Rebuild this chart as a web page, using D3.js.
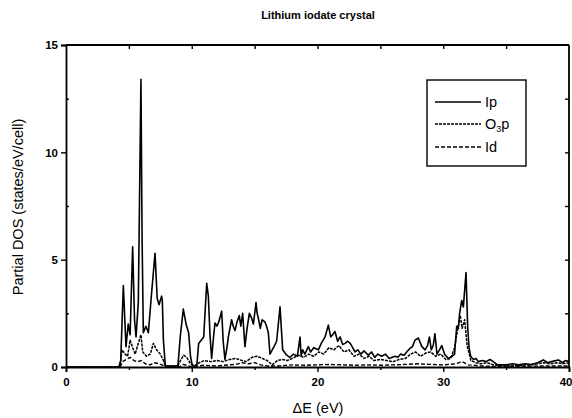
<!DOCTYPE html>
<html><head><meta charset="utf-8">
<script src="https://cdn.jsdelivr.net/npm/d3@7"></script>
<style>body{margin:0;background:#fff}svg{display:block}</style>
</head><body>
<svg id="c" width="572" height="418"></svg>
<script>
const titleText = "Lithium iodate crystal";
const xLabel = "\u0394E (eV)";
const yLabel = "Partial DOS (states/eV/cell)";
const xTicks = [0, 10, 20, 30, 40];
const yTicks = [0, 5, 10, 15];
const seriesNames = ["Ip", "O3p", "Id"];

const ipE = [0,4.2,4.35,4.56,4.77,4.95,5.1,5.3,5.45,5.57,5.75,5.96,6.05,6.15,6.35,6.55,6.8,7.08,7.25,7.4,7.6,7.66,7.75,7.9,8.9,9.1,9.33,9.55,9.75,9.9,10.05,10.4,10.55,10.75,10.95,11.19,11.32,11.45,11.58,11.75,11.85,12.0,12.15,12.38,12.5,12.64,12.8,12.91,13.17,13.3,13.44,13.6,13.78,13.9,14.05,14.23,14.4,14.58,14.75,14.9,15.11,15.2,15.29,15.45,15.6,15.82,15.95,16.09,16.22,16.4,16.54,16.75,17.02,17.23,17.55,17.8,18.1,18.4,18.61,18.7,18.82,19.0,19.27,19.45,19.7,20.07,20.3,20.6,20.86,21.05,21.2,21.39,21.6,21.8,22.0,22.19,22.4,22.6,22.8,22.98,23.2,23.45,23.7,24.04,24.3,24.55,24.8,25.1,25.4,25.7,26.16,26.4,26.6,26.9,27.09,27.36,27.55,27.75,28.02,28.3,28.55,28.75,28.9,29.05,29.2,29.34,29.5,29.7,29.88,30.1,30.4,30.7,30.9,31.07,31.2,31.3,31.47,31.6,31.81,31.94,32.05,32.18,32.4,32.6,32.79,33.1,33.4,33.72,33.98,34.3,35,35.5,36,36.5,37,37.5,37.96,38.3,38.6,39.15,39.5,39.7,40];
const ipDOS = [0,0,0.3,3.8,0.95,2.0,1.5,5.6,2.2,1.4,3.0,13.4,6.0,1.6,1.9,1.6,3.4,5.3,3.2,2.9,3.3,3.1,1.2,0.05,0.05,1.5,2.7,2.0,1.6,0.5,0.05,0.05,1.1,1.25,1.4,3.9,3.3,1.5,0.4,1.5,2.05,1.9,2.1,2.6,1.2,0.35,0.9,1.4,2.2,1.9,1.7,2.1,2.4,1.9,2.5,0.95,1.8,2.5,2.3,2.0,3.0,2.5,2.3,1.8,2.2,2.1,1.9,1.6,0.6,0.8,0.95,1.2,2.8,0.8,0.55,0.45,0.6,0.5,1.4,0.5,0.8,0.6,0.95,0.7,0.9,0.8,1.1,1.4,1.95,1.4,1.5,1.65,1.2,1.4,1.05,1.1,1.2,1.1,0.9,0.7,0.8,0.6,0.75,0.55,0.7,0.45,0.6,0.5,0.6,0.4,0.5,0.45,0.6,0.55,0.7,0.87,0.95,1.25,1.35,0.95,0.8,1.0,1.4,0.8,1.0,1.55,0.6,0.8,1.0,0.6,0.4,0.5,0.6,1.9,1.8,2.5,3.1,2.8,4.4,1.9,0.9,0.5,0.35,0.4,0.25,0.3,0.25,0.35,0.25,0.1,0.1,0.15,0.1,0.15,0.12,0.2,0.33,0.2,0.25,0.33,0.2,0.3,0.25];

const o3pE = [0,4.3,4.45,4.7,4.9,5.1,5.3,5.5,5.7,5.96,6.1,6.4,6.7,6.95,7.2,7.5,7.75,7.9,8.9,9.1,9.35,9.6,9.9,10.2,10.6,11.0,11.5,12.0,12.5,13.0,13.5,14.0,14.3,14.8,15.2,15.6,16.0,16.4,16.8,17.2,17.6,18.0,18.5,18.9,19.3,19.7,20.1,20.5,20.9,21.3,21.7,22.1,22.5,22.9,23.3,23.7,24.1,24.5,25.0,25.5,26.0,26.5,27.0,27.4,27.8,28.2,28.6,29.0,29.4,29.8,30.2,30.6,30.9,31.1,31.35,31.5,31.7,31.9,32.2,32.6,33.0,33.5,34.0,35,36,37,38,38.5,39,39.5,40];
const o3pDOS = [0,0,0.8,0.6,0.5,1.25,0.9,0.6,1.0,1.5,0.7,0.5,0.6,1.1,0.8,0.6,0.3,0.05,0.05,0.3,0.55,0.45,0.15,0.05,0.2,0.3,0.25,0.3,0.25,0.35,0.4,0.3,0.25,0.45,0.5,0.4,0.3,0.1,0.3,0.35,0.3,0.4,0.55,0.45,0.6,0.5,0.7,0.6,0.9,0.8,1.0,0.7,0.8,0.5,0.6,0.4,0.5,0.3,0.35,0.3,0.25,0.35,0.4,0.6,0.7,0.5,0.65,0.7,0.5,0.6,0.35,0.4,0.9,1.6,2.4,1.8,2.2,1.0,0.3,0.2,0.15,0.2,0.1,0.05,0.08,0.1,0.2,0.15,0.2,0.15,0.2];

const idE = [0,4.3,4.5,4.8,5.1,5.4,5.7,6.0,6.3,6.7,7.0,7.4,7.8,8.0,9.0,9.3,9.6,10.0,10.5,11,12,13,13.5,14,14.5,15,15.5,16,17,18,19,20,21,22,23,24,25,26,27,28,29,30,31,31.5,32,33,34,36,38,40];
const idDOS = [0,0,0.25,0.35,0.45,0.3,0.25,0.3,0.15,0.1,0.2,0.15,0.05,0,0,0.12,0.08,0,0.05,0.08,0.05,0.1,0.12,0.2,0.15,0.2,0.1,0.05,0.05,0.1,0.08,0.1,0.12,0.1,0.08,0.1,0.08,0.1,0.12,0.15,0.12,0.1,0.15,0.25,0.1,0.05,0.03,0.03,0.05,0.05];

const svg = d3.select("#c");
const m = {l: 66, r: 3, t: 45, b: 51};
const W = 572, H = 418;
const x = d3.scaleLinear().domain([0, 40]).range([m.l, W - m.r]);
const y = d3.scaleLinear().domain([0, 15]).range([H - m.b, m.t]);
const font = "'Liberation Sans', Arial, sans-serif";

// curves
const line = d3.line().x(d => x(d[0])).y(d => y(d[1]));
const series = [
  {E: idE, V: idDOS, dash: "4,2", w: 1.4},
  {E: o3pE, V: o3pDOS, dash: "3,1", w: 1.5},
  {E: ipE, V: ipDOS, dash: null, w: 1.6}
];
series.forEach(s => {
  const pts = s.E.map((e, i) => [e, s.V[i]]);
  svg.append("path").attr("d", line(pts)).attr("fill", "none")
    .attr("stroke", "#000").attr("stroke-width", s.w)
    .attr("stroke-linejoin", "round")
    .attr("stroke-dasharray", s.dash);
});

// axes
const ax = svg.append("g").attr("font-family", font);
const bottom = d3.axisBottom(x).tickValues(xTicks).tickSize(5).tickFormat(d3.format("d"));
const gb = ax.append("g").attr("transform", `translate(0,${y(0)})`).call(bottom);
const gbm = ax.append("g").attr("transform", `translate(0,${y(0)})`)
  .call(d3.axisBottom(x).tickValues([5,15,25,35]).tickSize(3).tickFormat(""));
const left = d3.axisLeft(y).tickValues(yTicks).tickSize(5).tickFormat(d3.format("d"));
const gl = ax.append("g").attr("transform", `translate(${x(0)},0)`).call(left);
const glm = ax.append("g").attr("transform", `translate(${x(0)},0)`)
  .call(d3.axisRight(y).tickValues([2.5,7.5,12.5]).tickSize(3).tickFormat(""));
const gt = ax.append("g").attr("transform", `translate(0,${y(15)})`)
  .call(d3.axisBottom(x).tickValues([5,10,15,20,25,30,35]).tickSize(4).tickFormat(""));
const gr = ax.append("g").attr("transform", `translate(${x(40)},0)`)
  .call(d3.axisLeft(y).tickValues([2.5,5,7.5,10,12.5]).tickSize(4).tickFormat(""));
[gb, gbm, gl, glm, gt, gr].forEach(g => {
  g.selectAll(".domain").attr("stroke", "#000").attr("stroke-width", 1.8);
  g.selectAll(".tick line").attr("stroke", "#000").attr("stroke-width", 1.4);
  g.selectAll("text").attr("fill", "#000").attr("font-size", 11.5).attr("font-weight", "bold").attr("font-family", font);
});
gb.selectAll("text").attr("dy", "0.95em");
gb.selectAll(".tick").filter(d => d === 40).select("text").attr("text-anchor", "end").attr("dx", 3);
gl.selectAll("text").attr("x", -8);
gt.select(".domain").remove();
gr.select(".domain").remove();
gbm.select(".domain").remove();
glm.select(".domain").remove();
ax.append("line").attr("x1", x(0)).attr("x2", x(40)).attr("y1", y(15)).attr("y2", y(15)).attr("stroke", "#000").attr("stroke-width", 1.8);
ax.append("line").attr("x1", x(40)).attr("x2", x(40)).attr("y1", y(15)).attr("y2", y(0)).attr("stroke", "#000").attr("stroke-width", 1.8);

// titles
svg.append("text").attr("x", 318).attr("y", 19).attr("text-anchor", "middle")
  .attr("font-family", font).attr("font-weight", "bold").attr("font-size", 11).text(titleText);
svg.append("text").attr("x", 318).attr("y", 413).attr("text-anchor", "middle")
  .attr("font-family", font).attr("font-size", 14.5).text(xLabel);
svg.append("text").attr("transform", "translate(23,207) rotate(-90)").attr("text-anchor", "middle")
  .attr("font-family", font).attr("font-size", 14.5).text(yLabel);

// legend
const lg = svg.append("g").attr("font-family", font);
lg.append("rect").attr("x", 427).attr("y", 80).attr("width", 99).attr("height", 86)
  .attr("fill", "#fff").attr("stroke", "#000").attr("stroke-width", 1.4);
const legY = [102, 124, 147];
const legDash = [null, "3,1", "4,2"];
seriesNames.forEach((n, i) => {
  lg.append("line").attr("x1", 435).attr("x2", 481).attr("y1", legY[i]).attr("y2", legY[i])
    .attr("stroke", "#000").attr("stroke-width", 1.3).attr("stroke-dasharray", legDash[i]);
  const t = lg.append("text").attr("x", 485).attr("y", legY[i] + 5).attr("font-size", 14.5);
  if (n === "O3p") {
    t.append("tspan").text("O");
    t.append("tspan").attr("font-size", 9).attr("dy", 3).text("3");
    t.append("tspan").attr("dy", -3).text("p");
  } else t.text(n);
});
</script>
</body></html>
